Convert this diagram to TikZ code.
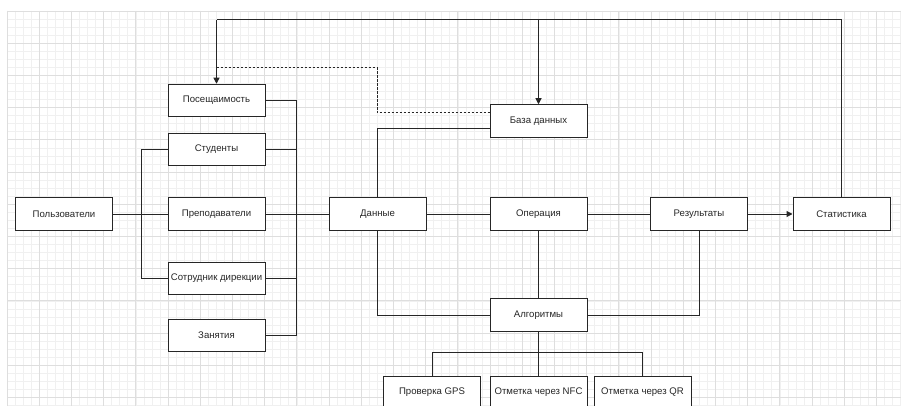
\documentclass[tikz,border=0pt]{standalone}
\usepackage{fontspec}
\setmainfont{Liberation Sans}
\usetikzlibrary{arrows.meta}
\begin{document}
\begin{tikzpicture}[x=1pt,y=-1pt,
  box/.style={draw=black!85,line width=1pt,fill=white,minimum width=97pt,minimum height=32.5pt,inner xsep=1pt,inner ysep=0pt,font=\fontsize{9.6}{11}\selectfont,text=black!85},
  con/.style={draw=black!85,line width=1pt},
  arr/.style={con,-{Triangle[length=6pt,width=6pt]}},
  minorgrid/.style={draw=black!6,line width=0.6pt},
  majorgrid/.style={draw=black!13,line width=0.8pt}]
\useasboundingbox (0,0) rectangle (901,406);
\fill[white] (0,0) rectangle (901,406);
\clip (0,0) rectangle (901,406);
% grid
\foreach \i in {0,...,111} {\draw[minorgrid] ({7+8.05*\i},11) -- ({7+8.05*\i},406);}
\foreach \j in {0,...,49} {\draw[minorgrid] (7,{11+8.05*\j}) -- (901,{11+8.05*\j});}
\foreach \i in {0,...,27} {\draw[majorgrid] ({7+32.2*\i},11) -- ({7+32.2*\i},406);}
\foreach \j in {0,...,12} {\draw[majorgrid] (7,{11+32.2*\j}) -- (901,{11+32.2*\j});}
% nodes
\node[box] (pos) at (216.5,100.5) {Посещаимость};
\node[box] (stu) at (216.5,149.5) {Студенты};
\node[box] (pol) at (64,214) {Пользователи};
\node[box] (pre) at (216.5,214) {Преподаватели};
\node[box] (sot) at (216.5,278.5) {Сотрудник дирекции};
\node[box] (zan) at (216.5,335.5) {Занятия};
\node[box] (dat) at (377.5,214) {Данные};
\node[box] (db) at (538.5,121) {База данных};
\node[box] (op) at (538.5,214) {Операция};
\node[box] (res) at (699,214) {Результаты};
\node[box] (stat) at (841.5,214) {Статистика};
\node[box] (alg) at (538.5,315) {Алгоритмы};
\node[box] (gps) at (432,392.5) {Проверка GPS};
\node[box] (nfc) at (538.5,392.5) {Отметка через NFC};
\node[box] (qr) at (642.5,392.5) {Отметка через QR};
% helper coordinates
\coordinate (topy) at (0,20);
\coordinate (d1) at (0,68);
\coordinate (d2) at (377,113);
\coordinate (rb) at (296,0);
\coordinate (lb) at (141,0);
\coordinate (busy) at (0,352);
% connectors
\draw[con] (stat.north) -- (stat.north |- topy) -- (pos.north |- topy);
\draw[arr] (pos.north |- topy) -- (pos.north);
\draw[arr] (db.north |- topy) -- (db.north);
\draw[con,dash pattern=on 2.5pt off 1.5pt] (pos.north |- d1) -| (d2) -- (d2 -| db.west);
\draw[con] ([yshift=-8pt]db.west) -| (dat.north);
\draw[con] (pos.east) -- (pos.east -| rb) -- (zan.east -| rb) -- (zan.east);
\draw[con] (stu.east) -- (stu.east -| rb);
\draw[con] (sot.east) -- (sot.east -| rb);
\draw[con] (pre.east) -- (dat.west);
\draw[con] (stu.west) -- (stu.west -| lb) -- (sot.west -| lb) -- (sot.west);
\draw[con] (pol.east) -- (pre.west);
\draw[con] (dat.east) -- (op.west);
\draw[con] (op.east) -- (res.west);
\draw[arr] (res.east) -- (stat.west);
\draw[con] (dat.south) |- (alg.west);
\draw[con] (op.south) -- (alg.north);
\draw[con] (res.south) |- (alg.east);
\draw[con] (alg.south) -- (nfc.north);
\draw[con] (gps.north) -- (gps.north |- busy) -- (qr.north |- busy) -- (qr.north);
\end{tikzpicture}
\end{document}
